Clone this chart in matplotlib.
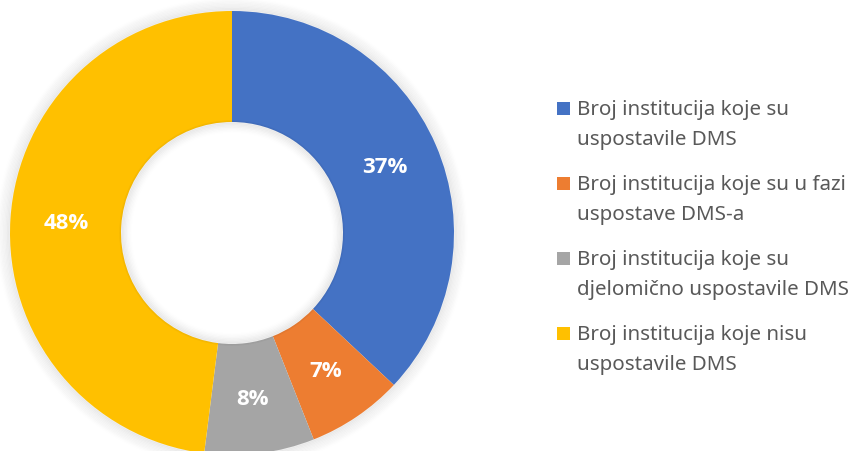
import numpy as np
import matplotlib.pyplot as plt
from matplotlib.patches import Rectangle, Circle

# --- Data ---
labels = ['Broj institucija koje su\nuspostavile DMS',
          'Broj institucija koje su u fazi\nuspostave DMS-a',
          'Broj institucija koje su\ndjelomično uspostavile DMS',
          'Broj institucija koje nisu\nuspostavile DMS']
values = [37, 7, 8, 48]
colors = ['#4472C4', '#ED7D31', '#A5A5A5', '#FFC000']

plt.rcParams['font.family'] = ['Noto Sans', 'DejaVu Sans']

W, H = 855, 452
fig = plt.figure(figsize=(W / 100, H / 100), dpi=100)

# donut centre / radius in pixels
cx, cy, R = 232, 452 - 234, 222
lim = 1.12
ax = fig.add_axes([(cx - R * lim) / W, (cy - R * lim) / H, 2 * R * lim / W, 2 * R * lim / H])
ax.set_xlim(-lim, lim)
ax.set_ylim(-lim, lim)
ax.set_aspect('equal')
ax.axis('off')

# soft shadow around outer edge and inside the hole
for k in range(10):
    ax.add_patch(Circle((0, 0), 1.0 + 0.006 * k, facecolor='none',
                        edgecolor='black', lw=2.5, alpha=0.035 * (1 - k / 10), zorder=0))
for k in range(8):
    ax.add_patch(Circle((0, 0), 0.5 - 0.006 * k, facecolor='none',
                        edgecolor='black', lw=2.5, alpha=0.035 * (1 - k / 8), zorder=3))

wedges, texts, autotexts = ax.pie(
    values, colors=colors, startangle=90, counterclock=False, radius=1.0,
    wedgeprops=dict(width=0.5, edgecolor='none'),
    autopct=lambda p: f'{p:.0f}%', pctdistance=0.75,
    textprops=dict(color='white', fontsize=16, fontweight='bold',
                   family=['Open Sans', 'DejaVu Sans']))
ax.set_xlim(-lim, lim)
ax.set_ylim(-lim, lim)

# legend drawn by hand so markers align with the first text line
first_line_y = [109, 184, 259, 334]
for y, lab, col in zip(first_line_y, labels, colors):
    fig.patches.append(Rectangle((557 / W, 1 - (y + 6.5) / H), 13 / W, 13 / H,
                                 transform=fig.transFigure, facecolor=col, edgecolor='none'))
    fig.text(577 / W, 1 - (y - 9) / H, lab, fontsize=14.8, color='#595959',
             va='top', ha='left', linespacing=1.68)

fig.savefig('out.png', dpi=100)
